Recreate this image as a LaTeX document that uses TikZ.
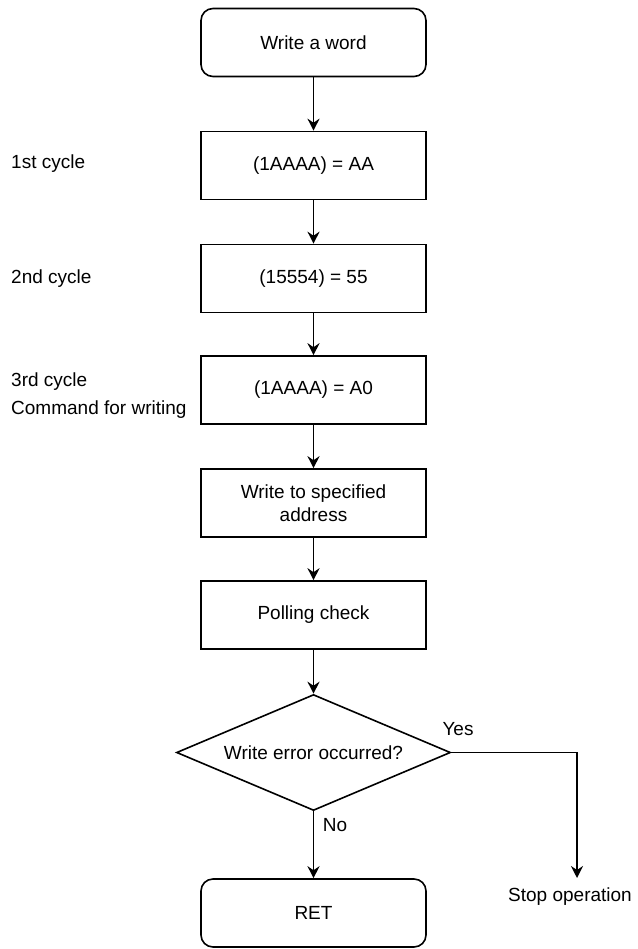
\documentclass[tikz,border=0pt]{standalone}
\usepackage{fontspec}
\setmainfont{Liberation Sans}
\usetikzlibrary{shapes.geometric,arrows.meta}

\tikzset{
  base/.style={draw=black, line width=1.6pt, fill=white, align=center,
    font=\fontsize{19}{23}\selectfont, inner sep=0pt},
  procbox/.style={base, rectangle, minimum width=225pt, minimum height=68pt},
  termbox/.style={procbox, rounded corners=12pt},
  decide/.style={base, diamond, aspect=2.36, minimum width=274pt, minimum height=116pt},
  flow/.style={line width=1.6pt, -{Stealth[length=12pt,width=12pt,inset=4pt]}},
  sidelabel/.style={anchor=west, align=left, inner sep=0pt,
    font=\fontsize{19}{28}\selectfont},
  branchlabel/.style={inner sep=0pt, font=\fontsize{19}{23}\selectfont}
}

\begin{document}
\begin{tikzpicture}[x=1pt, y=-1pt]
  \useasboundingbox (0,0) rectangle (637,949);

  % main column
  \node[termbox] (start) at (313.5,42.5)  {Write a word};
  \node[procbox] (c1)    at (313.5,165.5) {(1AAAA) = AA};
  \node[procbox] (c2)    at (313.5,278.5) {(15554) = 55};
  \node[procbox] (c3)    at (313.5,390)   {(1AAAA) = A0};
  \node[procbox] (wr)    at (313.5,503)   {Write to specified\\address};
  \node[procbox] (poll)  at (313.5,615)   {Polling check};
  \node[decide]  (err)   at (313.5,752.5) {Write error occurred?};
  \node[termbox] (ret)   at (313.5,913)   {RET};

  % cycle annotations
  \node[sidelabel] (l1) at (11,164) {1st cycle};
  \node[sidelabel] (l2) at (11,279) {2nd cycle};
  \node[sidelabel] (l3) at (11,396) {3rd cycle\\Command for writing};

  % error branch target
  \coordinate (stopin) at (577,878);
  \node[branchlabel] (stop) at (570,897) {Stop operation};

  % connectors
  \draw[flow] (start) -- (c1);
  \draw[flow] (c1) -- (c2);
  \draw[flow] (c2) -- (c3);
  \draw[flow] (c3) -- (wr);
  \draw[flow] (wr) -- (poll);
  \draw[flow] (poll) -- (err);
  \draw[flow] (err.south) -- (ret.north);
  \draw[flow] (err.east) -| (stopin);

  % branch labels
  \node[branchlabel] (yes) at (458,729) {Yes};
  \node[branchlabel] (no)  at (335,825) {No};
\end{tikzpicture}
\end{document}
